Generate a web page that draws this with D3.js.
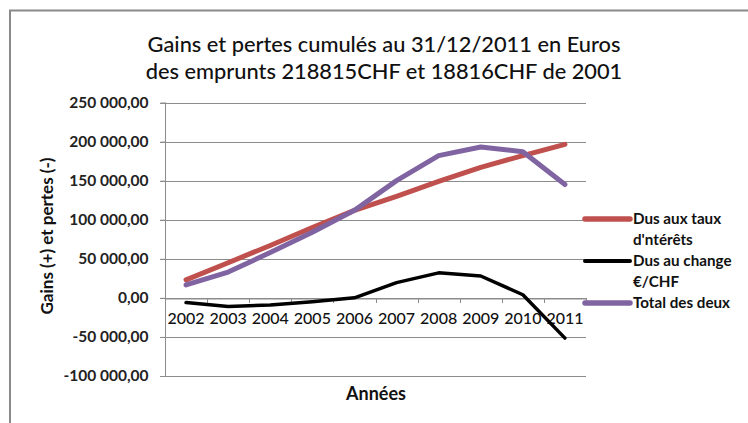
<!DOCTYPE html>
<html>
<head>
<meta charset="utf-8">
<script src="https://cdn.jsdelivr.net/npm/d3@7"></script>
<style>
  html, body { margin: 0; padding: 0; background: #fff; }
  svg { display: block; font-family: Lato, "Open Sans", sans-serif; }
</style>
</head>
<body>
<svg id="chart" width="748" height="423"></svg>
<script>
// ---- data ----
const years = ["2002","2003","2004","2005","2006","2007","2008","2009","2010","2011"];
const interets = [23000, 45000, 67000, 90000, 112000, 130000, 149000, 167000, 182000, 196500];
const change   = [-6000, -11000, -9000, -5000, 0, 19500, 32000, 28000, 4000, -51500];
const total    = [16500, 33000, 58000, 84000, 112000, 150000, 182000, 193000, 187000, 145000];
const yTicks   = [-100000, -50000, 0, 50000, 100000, 150000, 200000, 250000];
const seriesNames = [["Dus aux taux", "d'ntérêts"], ["Dus au  change", "€/CHF"], ["Total des deux"]];
const titleLines = ["Gains et pertes cumulés au 31/12/2011 en Euros", "des emprunts 218815CHF et 18816CHF de 2001"];

const svg = d3.select("#chart");
const colors = ["#C0504D", "#000000", "#8064A2"];
const widths = [5, 3.5, 5];

// frame
svg.append("path").attr("d", "M10,430 L10,10.5 L760,10.5").attr("fill", "none")
  .attr("stroke", "#8a8a8a").attr("stroke-width", 2);

const x = d3.scaleBand().domain(years).range([165, 586]);
const y = d3.scaleLinear().domain([-100000, 250000]).range([376, 102.5]);

const fmt = v => {
  const s = d3.format(",.2f")(v);
  return s.replace(/,/g, " ").replace(".", ",").replace("−", "-");
};

// gridlines
svg.append("g").selectAll("line").data(yTicks).join("line")
  .attr("x1", 160).attr("x2", 586)
  .attr("y1", d => Math.round(y(d)) + 0.5).attr("y2", d => Math.round(y(d)) + 0.5)
  .attr("stroke", "#8c8c8c").attr("stroke-width", 1);

// y axis
const yAxis = d3.axisLeft(y).tickValues(yTicks).tickFormat(fmt).tickSize(5).tickPadding(12);
const gy = svg.append("g").attr("transform", "translate(165.5,0)").call(yAxis);
gy.select(".domain").attr("stroke", "#8c8c8c").attr("d", `M0,${y(250000)}V${y(-100000)}`);
gy.selectAll(".tick line").attr("stroke", "#8c8c8c");
gy.selectAll(".tick text").attr("font-size", 15.5).attr("font-weight", "bold").attr("fill", "#222")
  .attr("font-family", "Lato");

// x axis at zero
const xAxis = d3.axisBottom(x).tickSize(0).tickPadding(14);
const gx = svg.append("g").attr("transform", `translate(0,${Math.round(y(0)) + 0.5})`).call(xAxis);
gx.select(".domain").attr("stroke", "#8c8c8c");
gx.selectAll(".tick text").attr("font-size", 16).attr("fill", "#111").attr("font-family", "Lato")
  .attr("font-weight", "500");
// category boundary ticks
svg.append("g").selectAll("line").data(years).join("line")
  .attr("x1", d => Math.round(x(d) + x.bandwidth()) + 0.5)
  .attr("x2", d => Math.round(x(d) + x.bandwidth()) + 0.5)
  .attr("y1", Math.round(y(0))).attr("y2", Math.round(y(0)) + 5)
  .attr("stroke", "#8c8c8c");

// lines
const line = d3.line().x((d, i) => x(years[i]) + x.bandwidth() / 2).y(d => y(d));
const series = [interets, change, total];
series.forEach((s, i) => {
  svg.append("path").datum(s).attr("d", line).attr("fill", "none")
    .attr("stroke", colors[i]).attr("stroke-width", widths[i])
    .attr("stroke-linejoin", "round").attr("stroke-linecap", "round");
});

// title
const t = svg.append("text").attr("text-anchor", "middle").attr("font-size", 21.8)
  .attr("font-weight", "500").attr("fill", "#111");
titleLines.forEach((l, i) => t.append("tspan").attr("x", 384).attr("y", 52 + i * 27).text(l));

// axis titles
svg.append("text").attr("transform", "translate(53,236) rotate(-90)").attr("text-anchor", "middle")
  .attr("font-size", 17).attr("font-weight", "bold").attr("fill", "#111").text("Gains (+) et pertes (-)");
svg.append("text").attr("x", 376).attr("y", 400).attr("text-anchor", "middle")
  .attr("font-size", 18).attr("font-weight", "bold").attr("fill", "#111").text("Années");

// legend
const legY = [219, 261, 303];
seriesNames.forEach((names, i) => {
  const g = svg.append("g");
  g.append("line").attr("x1", 585).attr("x2", 630).attr("y1", legY[i]).attr("y2", legY[i])
    .attr("stroke", colors[i]).attr("stroke-width", widths[i] + 0.5).attr("stroke-linecap", "round");
  names.forEach((n, j) => {
    g.append("text").attr("x", 633).attr("y", legY[i] + 5 + j * 21)
      .attr("font-size", 15.2).attr("font-weight", "bold").attr("fill", "#111").text(n);
  });
});
</script>
</body>
</html>
